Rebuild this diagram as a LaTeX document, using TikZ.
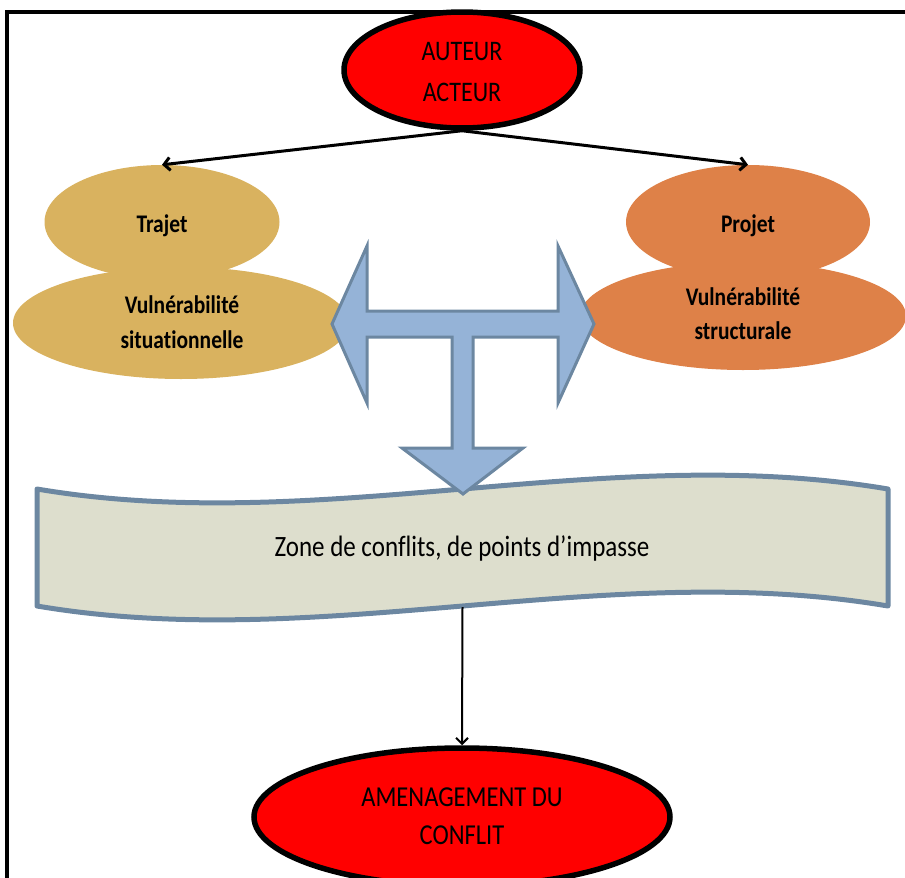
\documentclass[tikz,border=0pt]{standalone}
\usepackage{fontspec}
\setmainfont[Ligatures=NoCommon]{Carlito}
\usetikzlibrary{shapes.geometric,arrows.meta}
\definecolor{tanc}{RGB}{217,178,95}
\definecolor{orangec}{RGB}{222,129,72}
\definecolor{bluef}{RGB}{149,179,215}
\definecolor{bluel}{RGB}{108,135,161}
\definecolor{bannerf}{RGB}{221,222,205}
\newcommand{\vtxt}[3]{\scalebox{1}[1.18]{\fontsize{#1}{#2}\selectfont\begin{tabular}{@{}c@{}}#3\end{tabular}}}
\begin{document}
\begin{tikzpicture}[x=1pt,y=-1pt,
  redell/.style={ellipse, draw=black, line width=5.5pt, fill=red, inner sep=0pt},
  tanell/.style={ellipse, fill=tanc, inner sep=0pt},
  orell/.style={ellipse, fill=orangec, inner sep=0pt},
  txt/.style={inner sep=0pt},
  blk/.style={line width=3pt, -{Straight Barb[length=6pt,width=13pt]}},
  thinarr/.style={line width=2pt, -{Straight Barb[length=6pt,width=12pt]}},
  tarrow/.style={draw=bluel, fill=bluef, line width=3pt},
  banner/.style={draw=bluel, fill=bannerf, line width=5pt, line join=round}]
\useasboundingbox (0,0) rectangle (905,878);
\clip (0,0) rectangle (905,878);
% frame
\draw[line width=3.5pt] (7,12) rectangle (960,940);
% top red ellipse
\node[redell, minimum width=236pt, minimum height=116pt] (auteur) at (462,70) {};
\node[txt] (auteurtxt) at (462,73) {\vtxt{24}{34}{AUTEUR\\ACTEUR}};
% left ellipses
\node[tanell, minimum width=235pt, minimum height=114pt] (trajet) at (162,222) {};
\node[tanell, minimum width=336pt, minimum height=112pt] (situ) at (181,323) {};
\node[txt] (trajettxt) at (162,225) {\vtxt{21.5}{30}{\bfseries Trajet}};
\node[txt] (situtxt) at (182,324) {\vtxt{21.5}{30}{\bfseries Vulnérabilité\\\bfseries situationnelle}};
% right ellipses
\node[orell, minimum width=244pt, minimum height=114pt] (projet) at (748,222) {};
\node[orell, minimum width=326pt, minimum height=108pt] (struct) at (743,316) {};
\node[txt] (projettxt) at (748,225) {\vtxt{21.5}{30}{\bfseries Projet}};
\node[txt] (structtxt) at (743,316) {\vtxt{21.5}{29}{\bfseries Vulnérabilité\\\bfseries structurale}};
% arrows from top
\draw[blk] (auteur.south) -- (trajet.north);
\draw[blk] (auteur.south) -- (projet.north);
% banner
\draw[banner] (37,489) .. controls (321,537) and (604,441) .. (888,489)
  -- (888,606) .. controls (604,558) and (321,654) .. (37,606) -- cycle;
\node[txt] (zone) at (462,549) {\vtxt{25}{30}{Zone de conflits, de points d’impasse}};
% blue T arrow
\draw[tarrow] (332,324) -- (367,246) -- (367,311) -- (558,311) -- (558,246)
  -- (594,324) -- (558,403) -- (558,337) -- (473,337) -- (473,448)
  -- (523,448) -- (463,494) -- (402,448) -- (452,448) -- (452,337)
  -- (367,337) -- (367,403) -- cycle;
% bottom red ellipse
\node[redell, minimum width=416pt, minimum height=138pt] (amen) at (462,817) {};
\node[txt] (amentxt) at (462,818) {\vtxt{24.5}{32}{AMENAGEMENT DU\\CONFLIT}};
\coordinate (zb) at (462.5,607);
\draw[thinarr] (zb) -- (amen.north);
\end{tikzpicture}
\end{document}
